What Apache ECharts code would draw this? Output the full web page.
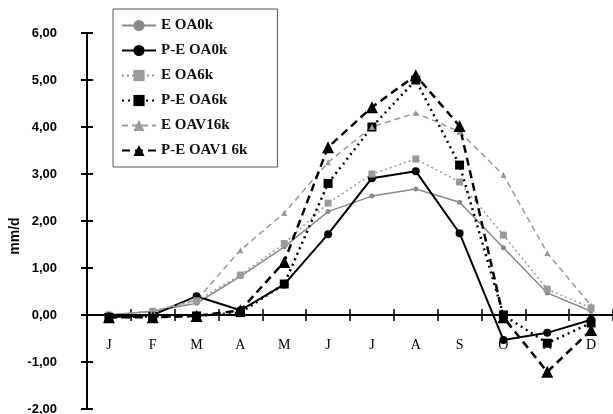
<!DOCTYPE html>
<html><head><meta charset="utf-8">
<script src="https://cdn.jsdelivr.net/npm/echarts@6/dist/echarts.min.js"></script>
<style>html,body{margin:0;padding:0;background:#fff}#c{width:613px;height:414px}</style>
</head><body><div id="c"></div>
<script>
const months = ['J','F','M','A','M','J','J','A','S','O','N','D'];
const yTicks = [-2,-1,0,1,2,3,4,5,6];
const eOA0k    = [0.0, 0.08, 0.25, 0.82, 1.45, 2.20, 2.53, 2.68, 2.40, 1.43, 0.47, 0.08];
const peOA0k   = [-0.05, 0.0, 0.40, 0.10, 0.65, 1.72, 2.91, 3.06, 1.74, -0.53, -0.38, -0.10];
const eOA6k    = [0.0, 0.08, 0.30, 0.85, 1.52, 2.38, 3.00, 3.32, 2.83, 1.70, 0.55, 0.15];
const peOA6k   = [-0.05, -0.03, -0.02, 0.05, 0.66, 2.80, 4.00, 5.00, 3.19, 0.0, -0.60, -0.17];
const eOAV16k  = [0.0, 0.08, 0.32, 1.38, 2.17, 3.25, 4.00, 4.30, 3.90, 2.98, 1.32, 0.20];
const peOAV16k = [-0.05, -0.05, -0.02, 0.10, 1.13, 3.57, 4.42, 5.10, 4.02, -0.05, -1.21, -0.32];

const chart = echarts.init(document.getElementById('c'));
const serif = 'Liberation Serif';
const gridTop = 33, gridBottom = 5, H = 414;
const yMin = yTicks[0], yMax = yTicks[yTicks.length - 1];
// offset that moves the bottom x axis up to the zero line
const zeroOffset = -((0 - yMin) / (yMax - yMin)) * (H - gridTop - gridBottom);
const catIdx = months.map((m, i) => String(i));
function mk(name, data, color, width, type, symbol, size) {
  return {name, type:'line', data, symbol, symbolSize:size, xAxisIndex:0, yAxisIndex:0,
    itemStyle:{color}, lineStyle:{color, width, type}, z: 3};
}
const axLine = {show:true, onZero:false, lineStyle:{color:'#000', width:2}};
chart.setOption({
  animation:false,
  backgroundColor:'#fff',
  grid:{left:87, right:0, top:gridTop, bottom:gridBottom, containLabel:false, outerBoundsMode:'none'},
  legend:{
    orient:'vertical', left:113, top:9, width:165,
    backgroundColor:'#fff', borderColor:'#555', borderWidth:1,
    padding:[9,30,9,8], itemGap:10, itemWidth:34, itemHeight:14,
    textStyle:{fontFamily:serif, fontSize:15, fontWeight:'bold', color:'#111'},
    data:['E OA0k','P-E OA0k','E OA6k','P-E OA6k','E OAV16k','P-E OAV16k'],
    formatter: n => n === 'P-E OAV16k' ? 'P-E OAV1 6k' : n
  },
  xAxis:[
    {type:'category', data:catIdx, boundaryGap:true, position:'bottom', offset:zeroOffset, z:5,
     axisLine:axLine, axisTick:{show:true, length:6, lineStyle:{color:'#000', width:1.5}},
     axisLabel:{margin:23, interval:0, hideOverlap:false, fontFamily:serif, fontSize:14, color:'#000',
       formatter: v => months[+v]}},
    {type:'category', data:catIdx, boundaryGap:true, position:'bottom', offset:zeroOffset,
     axisLine:axLine, axisTick:{show:true, inside:true, length:6, lineStyle:{color:'#000', width:1.5}},
     axisLabel:{show:false}}
  ],
  yAxis:[
    {type:'value', min:yMin, max:yMax, interval:1, splitLine:{show:false},
     axisLine:{show:true, lineStyle:{color:'#000', width:2}}, axisTick:{show:true, length:6, lineStyle:{color:'#000', width:2}},
     axisLabel:{margin:30, fontFamily:'Liberation Sans', fontWeight:'bold', fontSize:13, color:'#000',
       formatter: v => v.toFixed(2).replace('.', ','), padding:[0,0,4,0]}},
    {type:'value', min:yMin, max:yMax, interval:1, position:'left', splitLine:{show:false},
     axisLine:{show:true, lineStyle:{color:'#000', width:2}}, axisTick:{show:true, inside:true, length:6, lineStyle:{color:'#000', width:2}},
     axisLabel:{show:false}}
  ],
  graphic:[{type:'text', x:15, y:236, rotation:Math.PI/2,
    style:{text:'mm/d', font:'bold 14px "Liberation Sans"', fill:'#000', textAlign:'center', textVerticalAlign:'middle'}}],
  series:[
    mk('E OA0k', eOA0k, '#8a8a8a', 1.5, 'solid', 'circle', 5),
    mk('P-E OA0k', peOA0k, '#000', 2, 'solid', 'circle', 8),
    mk('E OA6k', eOA6k, '#9a9a9a', 1.5, [2,3], 'rect', 7),
    mk('P-E OA6k', peOA6k, '#000', 2.5, [2,4], 'rect', 9),
    mk('E OAV16k', eOAV16k, '#9a9a9a', 1.5, [6,4], 'triangle', 6),
    mk('P-E OAV16k', peOAV16k, '#000', 2.5, [8,5], 'triangle', 12)
  ]
});
</script></body></html>
